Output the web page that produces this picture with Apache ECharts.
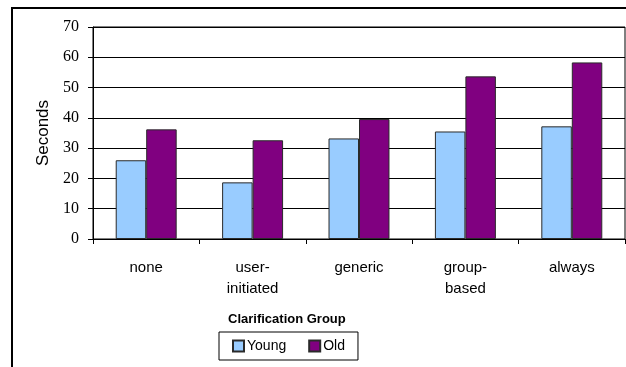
<!DOCTYPE html>
<html>
<head>
<meta charset="utf-8">
<style>
  html, body { margin: 0; padding: 0; background: #fff; }
  #chart { width: 626px; height: 367px; }
</style>
<script src="https://cdn.jsdelivr.net/npm/echarts@6/dist/echarts.min.js"></script>
</head>
<body>
<div id="chart"></div>
<script>
// Mean response time (seconds) by clarification group
const categories = ['none', 'user-\ninitiated', 'generic', 'group-\nbased', 'always'];
const young = [26.0, 18.7, 33.2, 35.5, 37.2];
const old = [36.2, 32.6, 39.6, 53.7, 58.3];
const yTicks = { min: 0, max: 70, interval: 10 };

const chart = echarts.init(document.getElementById('chart'), null, { renderer: 'canvas' });

const sans = 'Liberation Sans, Arial, sans-serif';
const barBorder = { borderColor: '#2a2a2a', borderWidth: 1 };

chart.setOption({
  animation: false,
  backgroundColor: '#fff',
  graphic: [
    {
      type: 'rect',
      shape: { x: 12, y: 8, width: 800, height: 600 },
      style: { fill: 'none', stroke: '#000', lineWidth: 2 },
      silent: true
    },
    {
      type: 'text',
      left: 228, top: 313,
      style: { text: 'Clarification Group', font: 'bold 13px ' + sans, fill: '#000' },
      silent: true
    }
  ],
  grid: {
    left: 93, right: 1, top: 27, bottom: 128,
    show: true, borderColor: '#000', borderWidth: 1, backgroundColor: 'transparent'
  },
  legend: {
    left: 219, top: 332,
    padding: [7, 13, 7, 13],
    itemGap: 22,
    itemWidth: 11, itemHeight: 11,
    icon: 'rect',
    borderColor: '#000', borderWidth: 1,
    textStyle: { fontFamily: sans, fontSize: 14, color: '#000', padding: [0, 0, 0, -2] },
    data: ['Young', 'Old']
  },
  xAxis: {
    type: 'category',
    data: categories,
    axisLine: { lineStyle: { color: '#000', width: 1 } },
    axisTick: { show: true, length: 5, lineStyle: { color: '#000' } },
    axisLabel: {
      margin: 18, lineHeight: 21,
      fontFamily: sans, fontSize: 15, color: '#000'
    },
    splitLine: { show: false }
  },
  yAxis: {
    type: 'value',
    min: yTicks.min, max: yTicks.max, interval: yTicks.interval,
    name: 'Seconds',
    nameLocation: 'middle',
    nameGap: 41,
    nameRotate: 90,
    nameTextStyle: { fontFamily: sans, fontSize: 17, color: '#000' },
    axisLine: { show: true, lineStyle: { color: '#000', width: 1 } },
    axisTick: { show: true, length: 5, inside: false, lineStyle: { color: '#000' } },
    axisLabel: {
      margin: 14,
      fontFamily: 'Liberation Serif, Times New Roman, serif', fontSize: 16, color: '#000'
    },
    splitLine: { show: true, lineStyle: { color: '#000', width: 1 } }
  },
  series: [
    {
      name: 'Young', type: 'bar', data: young,
      barGap: '0%', barCategoryGap: '42.7%',
      itemStyle: Object.assign({ color: '#99CCFF' }, barBorder)
    },
    {
      name: 'Old', type: 'bar', data: old,
      barGap: '0%', barCategoryGap: '42.7%',
      itemStyle: Object.assign({ color: '#800080' }, barBorder)
    }
  ]
});
</script>
</body>
</html>
